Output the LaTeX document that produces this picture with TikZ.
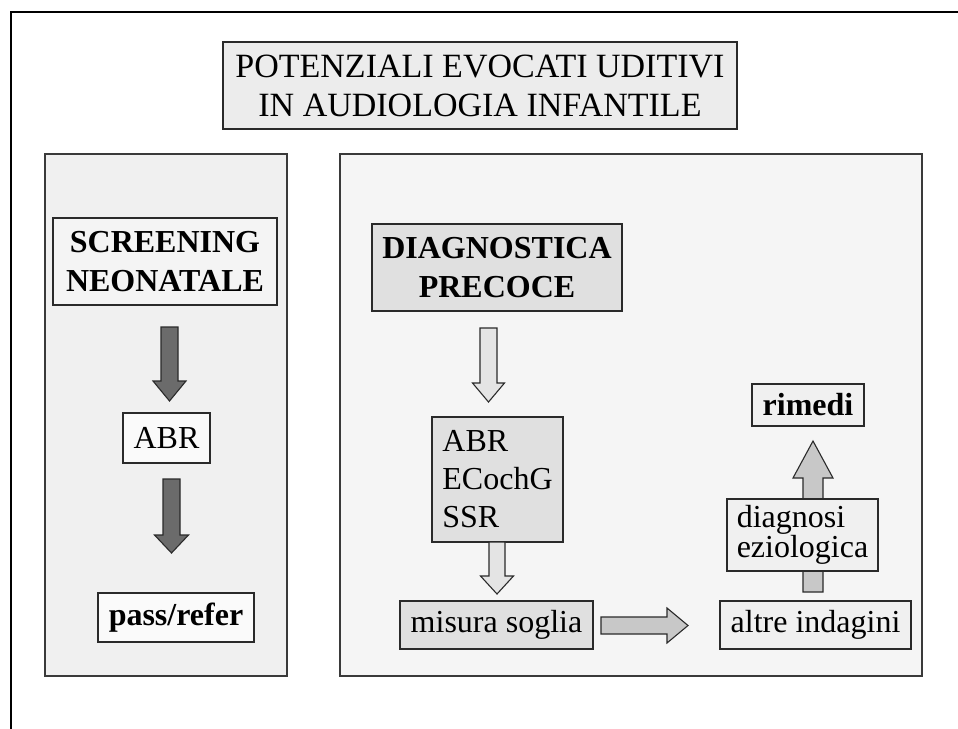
\documentclass[tikz,border=0pt]{standalone}
\usepackage{fontspec}
\setmainfont{Liberation Serif}
\usetikzlibrary{calc}
\definecolor{bordc}{HTML}{2A2A2A}
\definecolor{panelc}{HTML}{3A3A3A}
\definecolor{titlefill}{HTML}{ECECEC}
\definecolor{leftfill}{HTML}{F0F0F0}
\definecolor{rightfill}{HTML}{F5F5F5}
\definecolor{lightbox}{HTML}{F4F4F4}
\definecolor{whitebox}{HTML}{FAFAFA}
\definecolor{greybox}{HTML}{E0E0E0}
\definecolor{midbox}{HTML}{F0F0F0}
\definecolor{darkarrow}{HTML}{6B6B6B}
\definecolor{openarrow}{HTML}{E4E4E4}
\definecolor{midarrow}{HTML}{C8C8C8}
% block arrow: [style]{start}{tip}{shaft half}{head half}{head length}
\newcommand{\blockarr}[6][]{%
  \path ($(#3)!#6!(#2)$) coordinate (bb);
  \draw[#1] ($(#2)!#4!90:(#3)$) -- ($(bb)!#4!90:(#3)$) -- ($(bb)!#5!90:(#3)$)
    -- (#3) -- ($(bb)!#5!-90:(#3)$) -- ($(bb)!#4!-90:(#3)$)
    -- ($(#2)!#4!-90:(#3)$) -- cycle;}
\begin{document}
\begin{tikzpicture}[x=1pt,y=-1pt,
  box/.style={draw=bordc, line width=1.2pt, inner sep=0pt, align=center,
    font=\fontsize{32}{38}\selectfont},
  boldbox/.style={box, font=\fontsize{32}{38.5}\selectfont\bfseries},
  panel/.style={draw=panelc, line width=1.5pt, inner sep=0pt},
  arr/.style={draw=bordc, line width=1.1pt, line join=miter}]
\useasboundingbox (0,0) rectangle (958,728);
\fill[white] (0,0) rectangle (958,728);
% outer frame (continues beyond the visible area)
\draw[line width=2.5pt] (11,745) -- (11,12) -- (975,12);

% title
\node[box, fill=titlefill, minimum width=514pt, minimum height=87pt,
  font=\fontsize{34}{39}\selectfont] (title) at (480,85.5)
  {POTENZIALI EVOCATI UDITIVI\\IN AUDIOLOGIA INFANTILE};

% panels
\node[panel, fill=leftfill, minimum width=242pt, minimum height=522pt] (lpanel) at (166,415) {};
\node[panel, fill=rightfill, minimum width=582pt, minimum height=522pt] (rpanel) at (631,415) {};

% left column
\node[boldbox, fill=lightbox, minimum width=224pt, minimum height=87pt] (screen) at (165,261.5) {SCREENING\\NEONATALE};
\node[box, fill=whitebox, minimum width=87pt, minimum height=50pt] (abrl) at (166.5,438) {ABR};
\node[boldbox, fill=whitebox, minimum width=156pt, minimum height=49pt] (pass) at (176,617.5) {pass/refer};

\coordinate (d1s) at (169.5,327);
\coordinate (d1t) at (169.5,401);
\coordinate (d2s) at (171.5,479);
\coordinate (d2t) at (171.5,553);
\blockarr[arr, fill=darkarrow]{d1s}{d1t}{8.5pt}{16.5pt}{20pt}
\blockarr[arr, fill=darkarrow]{d2s}{d2t}{8.5pt}{17pt}{18pt}

% right column
\node[boldbox, fill=greybox, minimum width=250pt, minimum height=87pt] (diag) at (497,267.5) {DIAGNOSTICA\\PRECOCE};
\node[box, fill=greybox, minimum width=131pt, minimum height=125pt, align=left] (abrr) at (497.5,479.5) {ABR\\ECochG\\SSR};
\node[box, fill=greybox, minimum width=193pt, minimum height=48pt] (misura) at (496.5,625) {misura soglia};
\node[box, fill=midbox, minimum width=191pt, minimum height=48pt] (altre) at (815.5,625) {altre indagini};

\coordinate (o1s) at (488.5,328);
\coordinate (o1t) at (488.5,402);
\coordinate (o2s) at (497,542);
\coordinate (o2t) at (497,594);
\coordinate (rs) at (601,625.5);
\coordinate (rt) at (688,625.5);
\coordinate (us) at (813,592);
\coordinate (ut) at (813,441);
\blockarr[arr, fill=openarrow]{o1s}{o1t}{8.5pt}{16pt}{19pt}
\blockarr[arr, fill=openarrow]{o2s}{o2t}{8pt}{16.5pt}{18pt}
\blockarr[arr, fill=midarrow]{rs}{rt}{8.5pt}{17.5pt}{21pt}
\blockarr[arr, fill=midarrow]{us}{ut}{10pt}{20pt}{37pt}

\node[box, fill=midbox, minimum width=151pt, minimum height=72pt, align=left,
  font=\fontsize{32}{30}\selectfont] (diagn) at (802.5,535) {diagnosi\\eziologica};
\node[boldbox, fill=midbox, minimum width=112pt, minimum height=42pt] (rimedi) at (808,405) {rimedi};
\end{tikzpicture}
\end{document}
